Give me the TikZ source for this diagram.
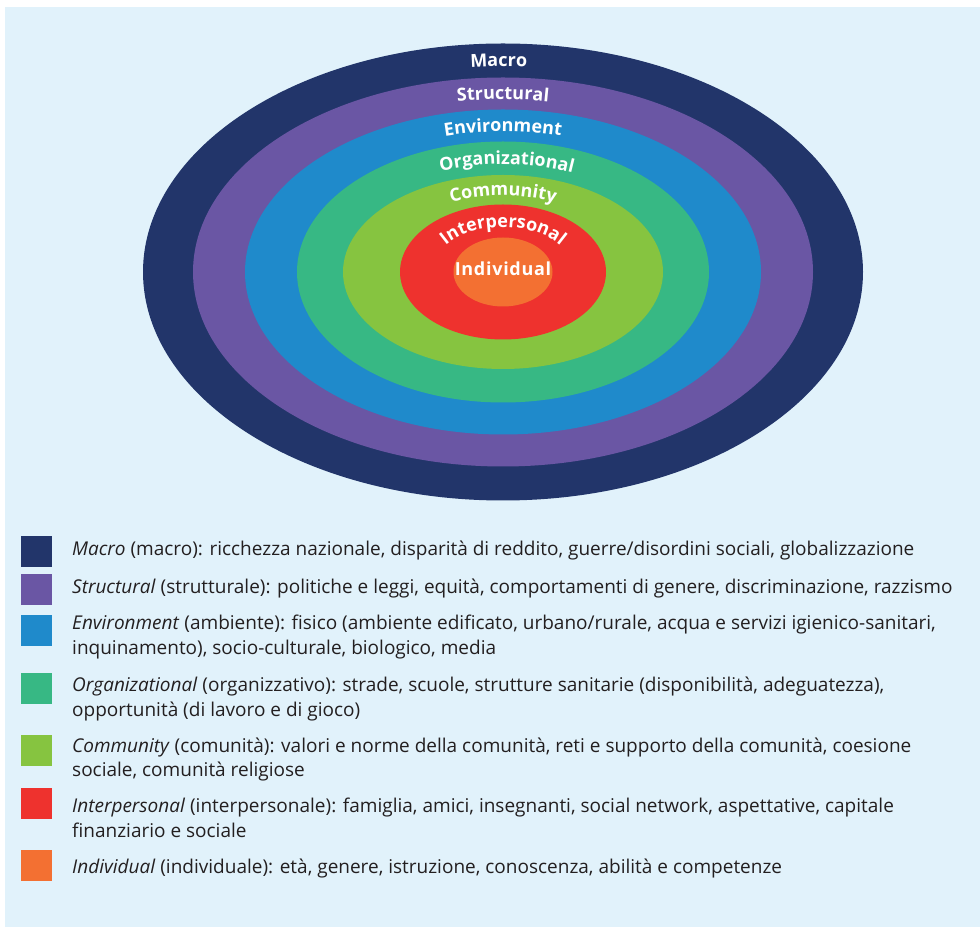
\documentclass[tikz,border=0pt]{standalone}
\usepackage{fontspec}
\setmainfont{Open Sans}
\newfontfamily\labelfont[LetterSpace=4]{Open Sans Bold}
\usetikzlibrary{decorations.text}
\definecolor{bgblue}{HTML}{E1F2FB}
\definecolor{cmacro}{HTML}{22356A}
\definecolor{cstruct}{HTML}{6A56A4}
\definecolor{cenv}{HTML}{1F8ACB}
\definecolor{corg}{HTML}{37B884}
\definecolor{ccomm}{HTML}{86C440}
\definecolor{cinter}{HTML}{EE322E}
\definecolor{cindiv}{HTML}{F37032}
\definecolor{ctext}{HTML}{231F20}
\newcommand{\lblstyle}{\labelfont\fontsize{18}{18}\selectfont\color{white}}
\tikzset{
  legsq/.style={minimum size=31pt, inner sep=0pt, anchor=north west},
  legtxt/.style={anchor=base west, inner sep=0pt, text=ctext, font=\fontsize{19}{25}\selectfont},
  arclabel/.style={decorate, decoration={text along path, text align=center, text={|\lblstyle|#1}}}
}
\begin{document}
\begin{tikzpicture}[x=1pt,y=1pt]
\useasboundingbox (0,0) rectangle (980,927);
\fill[white] (0,0) rectangle (980,927);
\fill[bgblue] (5,0) rectangle (980,920);
\coordinate (c) at (503,655);
\fill[cmacro] (c) ellipse [x radius=360, y radius=228.5];
\fill[cstruct] (c) ellipse [x radius=310, y radius=194.5];
\fill[cenv] (c) ellipse [x radius=258, y radius=162.5];
\fill[corg] (c) ellipse [x radius=206, y radius=130.5];
\fill[ccomm] (c) ellipse [x radius=160, y radius=97];
\fill[cinter] (c) ellipse [x radius=103, y radius=67.5];
\fill[cindiv] (c) ellipse [x radius=49.5, y radius=34.5];
% curved labels
\path[arclabel=Macro] ([shift={(181.2:329 and 205.5)}]c) arc[start angle=181.2, end angle=1.2, x radius=329, y radius=205.5];
\path[arclabel=Structural] ([shift={(180:278 and 172.5)}]c) arc[start angle=180, end angle=0, x radius=278, y radius=172.5];
\path[arclabel=Environment] ([shift={(180:226 and 140.5)}]c) arc[start angle=180, end angle=0, x radius=226, y radius=140.5];
\path[arclabel=Organizational] ([shift={(178:177 and 107.75)}]c) arc[start angle=178, end angle=-2, x radius=177, y radius=107.75];
\path[arclabel=Community] ([shift={(180:125.5 and 76.25)}]c) arc[start angle=180, end angle=0, x radius=125.5, y radius=76.25];
\path[arclabel=Interpersonal] ([shift={(180:71 and 45)}]c) arc[start angle=180, end angle=0, x radius=71, y radius=45];
\node[anchor=base, inner sep=0pt, font=\lblstyle] (indivlabel) at (503,651) {Individual};
% legend
\node[legsq, fill=cmacro] (sq1) at (21,391) {};
\node[legsq, fill=cstruct] (sq2) at (21,353) {};
\node[legsq, fill=cenv] (sq3) at (21,312) {};
\node[legsq, fill=corg] (sq4) at (21,254) {};
\node[legsq, fill=ccomm] (sq5) at (21,192) {};
\node[legsq, fill=cinter] (sq6) at (21,139) {};
\node[legsq, fill=cindiv] (sq7) at (21,77) {};
\node[legtxt] (t1) at (72,371) {\textit{Macro} (macro): ricchezza nazionale, disparità di reddito, guerre/disordini sociali, globalizzazione};
\node[legtxt] (t2) at (72,333) {\textit{Structural} (strutturale): politiche e leggi, equità, comportamenti di genere, discriminazione, razzismo};
\node[legtxt] (t3) at (72,297) {\textit{Environment} (ambiente): fisico (ambiente edificato, urbano/rurale, acqua e servizi igienico-sanitari,};
\node[legtxt] (t3b) at (72,272) {inquinamento), socio-culturale, biologico, media};
\node[legtxt] (t4) at (72,235) {\textit{Organizational} (organizzativo): strade, scuole, strutture sanitarie (disponibilità, adeguatezza),};
\node[legtxt] (t4b) at (72,210) {opportunità (di lavoro e di gioco)};
\node[legtxt] (t5) at (72,175) {\textit{Community} (comunità): valori e norme della comunità, reti e supporto della comunità, coesione};
\node[legtxt] (t5b) at (72,150) {sociale, comunità religiose};
\node[legtxt] (t6) at (72,115) {\textit{Interpersonal} (interpersonale): famiglia, amici, insegnanti, social network, aspettative, capitale};
\node[legtxt] (t6b) at (72,90) {finanziario e sociale};
\node[legtxt] (t7) at (72,54) {\textit{Individual} (individuale): età, genere, istruzione, conoscenza, abilità e competenze};
\end{tikzpicture}
\end{document}
